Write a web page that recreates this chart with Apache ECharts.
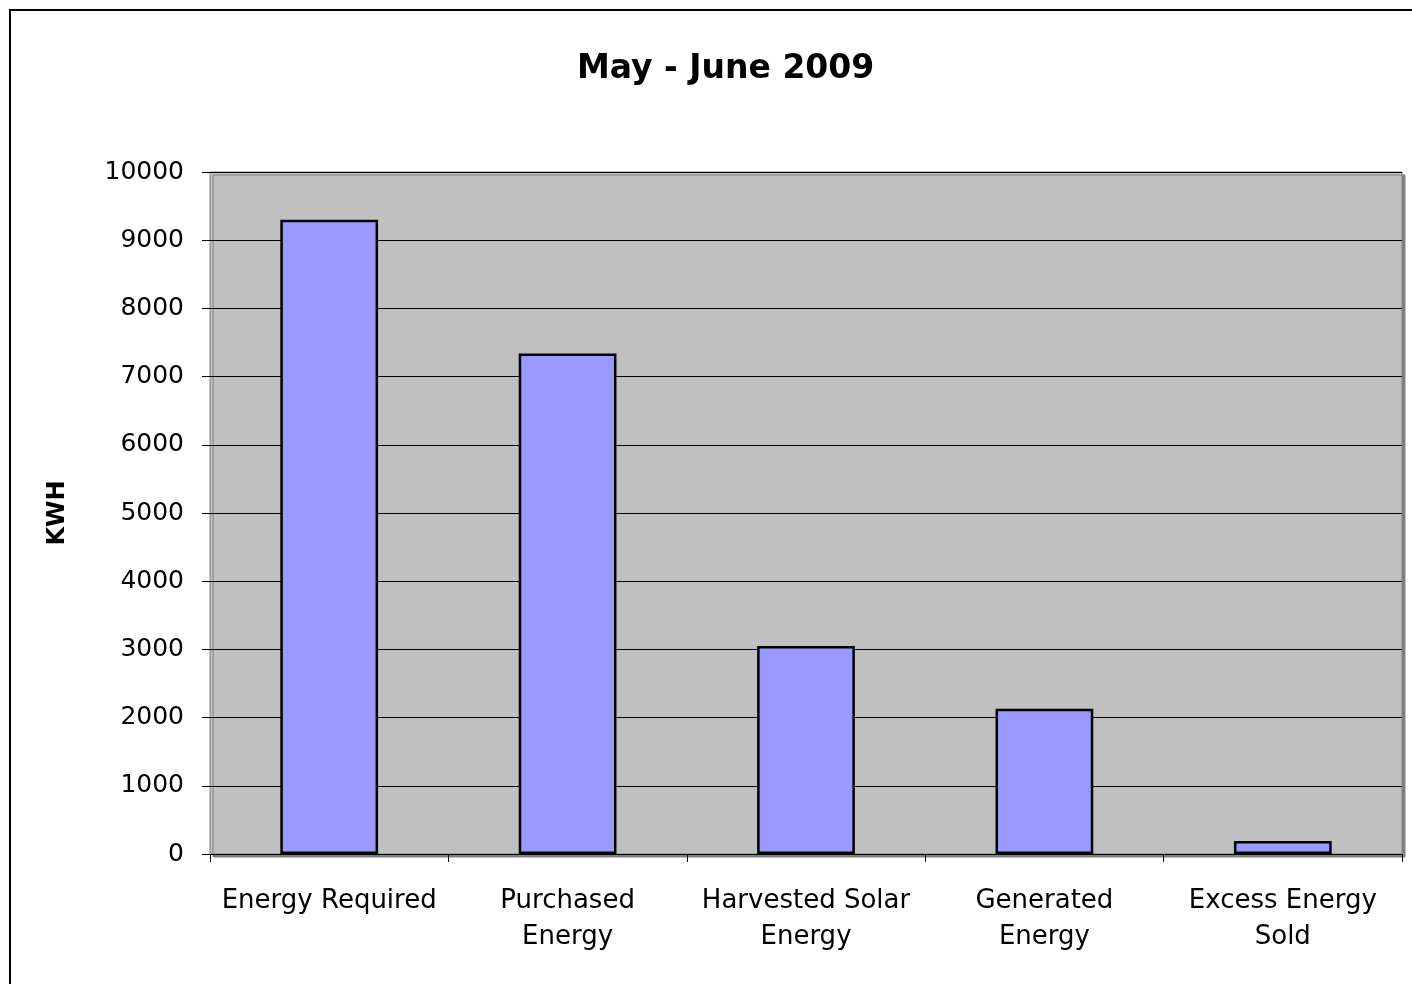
<!DOCTYPE html>
<html>
<head>
<meta charset="utf-8">
<title>May - June 2009</title>
<script src="https://cdn.jsdelivr.net/npm/echarts@6/dist/echarts.min.js"></script>
<style>
  html, body { margin: 0; padding: 0; background: #fff; }
  #main { width: 1412px; height: 984px; }
</style>
</head>
<body>
<div id="main"></div>
<script>
// categories and values
var categories = ['Energy Required', 'Purchased\nEnergy', 'Harvested Solar\nEnergy', 'Generated\nEnergy', 'Excess Energy\nSold']
var kwhValues = [9300, 7340, 3050, 2130, 190]

var chart = echarts.init(document.getElementById('main'))
var option = {
  backgroundColor: '#fff',
  animation: false,
  textStyle: {
    fontFamily: 'DejaVu Sans, sans-serif',
    color: '#000'
  },
  // outer chart frame (cut off at right and bottom in the original)
  graphic: [{
    type: 'rect',
    z: -10,
    shape: { x: 10, y: 10, width: 1500, height: 1100 },
    style: { fill: 'none', stroke: '#000', lineWidth: 2 }
  }],
  title: {
    text: 'May - June 2009',
    left: 572,
    top: 48,
    textStyle: {
      fontFamily: 'DejaVu Sans',
      fontSize: 33,
      fontWeight: 'bold',
      color: '#000'
    }
  },
  grid: {
    left: 210,
    top: 172,
    right: 10,
    bottom: 130,
    show: true,
    backgroundColor: '#c0c0c0',
    borderColor: '#808080',
    borderWidth: 1,
    shadowColor: '#808080',
    shadowOffsetX: 3,
    shadowOffsetY: 3,
    shadowBlur: 0
  },
  xAxis: {
    type: 'category',
    data: categories,
    axisLine: { show: true, lineStyle: { color: '#000', width: 1 } },
    axisTick: { show: true, length: 8, alignWithLabel: false, lineStyle: { color: '#000' } },
    axisLabel: {
      interval: 0,
      fontSize: 26,
      color: '#000',
      lineHeight: 36,
      margin: 29
    }
  },
  yAxis: {
    type: 'value',
    min: 0,
    max: 10000,
    interval: 1000,
    name: 'KWH',
    nameLocation: 'middle',
    nameRotate: 90,
    nameGap: 140,
    nameTextStyle: { fontSize: 24, fontWeight: 'bold', color: '#000' },
    axisLine: { show: false },
    axisTick: { show: true, length: 8, lineStyle: { color: '#000' } },
    axisLabel: {
      fontSize: 25,
      color: '#000',
      margin: 26,
      formatter: function (v) { return String(v) }
    },
    splitLine: { show: true, lineStyle: { color: '#000', width: 1 } }
  },
  series: [{
    type: 'bar',
    data: kwhValues,
    barWidth: '41%',
    itemStyle: {
      color: '#9999ff',
      borderColor: '#000',
      borderWidth: 2.5
    }
  }]
}
chart.setOption(option)
</script>
</body>
</html>
